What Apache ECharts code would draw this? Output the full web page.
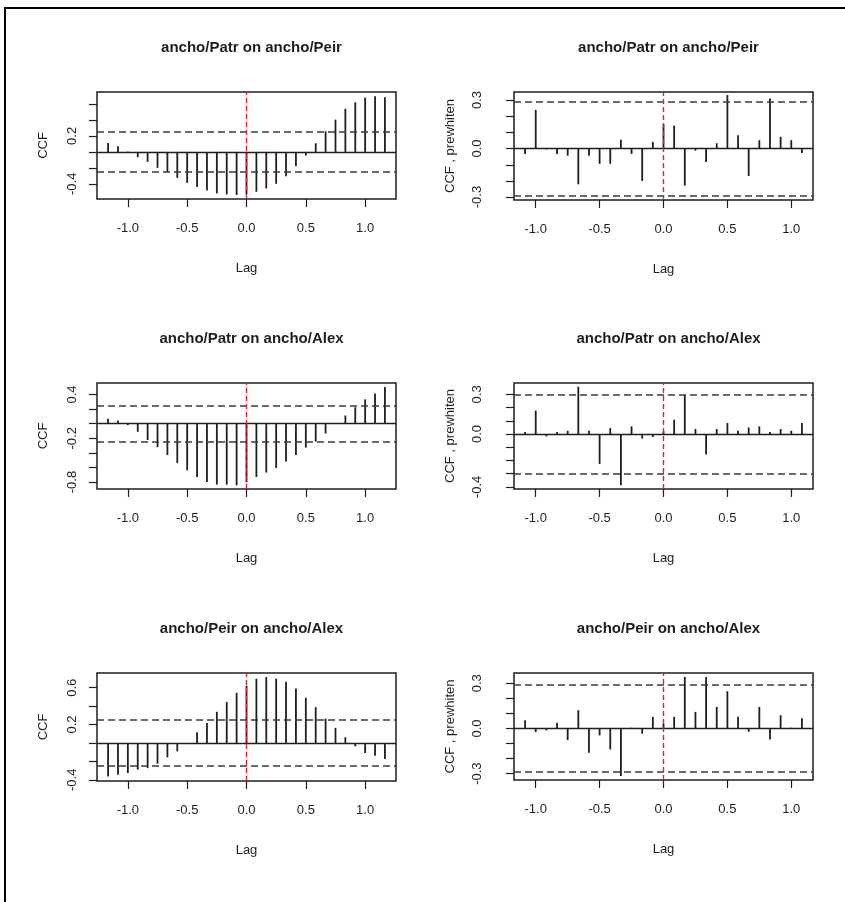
<!DOCTYPE html>
<html>
<head>
<meta charset="utf-8">
<script src="https://cdn.jsdelivr.net/npm/echarts@6/dist/echarts.min.js"></script>
<style>
  html, body { margin: 0; padding: 0; background: #fff; }
  #chart { width: 845px; height: 902px; }
</style>
</head>
<body>
<div id="chart"></div>
<script>
// lags in months (series frequency 12)
const lagsRaw = [-14, -13, -12, -11, -10, -9, -8, -7, -6, -5, -4, -3, -2, -1, 0, 1, 2, 3, 4, 5, 6, 7, 8, 9, 10, 11, 12, 13, 14]
const lagsPrew = [-13, -12, -11, -10, -9, -8, -7, -6, -5, -4, -3, -2, -1, 0, 1, 2, 3, 4, 5, 6, 7, 8, 9, 10, 11, 12, 13]

const ccfPatrPeir = [0.11, 0.07, 0.005, -0.067, -0.125, -0.2, -0.254, -0.325, -0.388, -0.44, -0.483, -0.52, -0.533, -0.54, -0.53, -0.5, -0.458, -0.4, -0.304, -0.18, -0.046, 0.108, 0.258, 0.404, 0.54, 0.62, 0.68, 0.696, 0.683]
const prewPatrPeir = [-0.033, 0.24, -0.005, -0.033, -0.044, -0.221, -0.044, -0.094, -0.094, 0.054, -0.033, -0.2, 0.042, 0.15, 0.142, -0.229, -0.0125, -0.083, 0.033, 0.331, 0.083, -0.169, 0.052, 0.31, 0.073, 0.052, -0.027]
const ccfPatrAlex = [0.067, 0.045, -0.02, -0.112, -0.225, -0.323, -0.43, -0.54, -0.64, -0.73, -0.8, -0.835, -0.835, -0.845, -0.8, -0.73, -0.67, -0.606, -0.517, -0.43, -0.328, -0.247, -0.135, -0.005, 0.112, 0.225, 0.333, 0.413, 0.503]
const prewPatrAlex = [0.015, 0.178, -0.018, 0.015, 0.025, 0.358, 0.025, -0.226, 0.045, -0.388, 0.058, -0.035, -0.023, 0.02, 0.108, 0.296, 0.038, -0.155, 0.038, 0.083, 0.025, 0.05, 0.058, 0.015, 0.038, 0.025, 0.083]
const ccfPeirAlex = [-0.364, -0.345, -0.327, -0.29, -0.273, -0.225, -0.156, -0.091, -0.005, 0.116, 0.218, 0.338, 0.444, 0.545, 0.62, 0.698, 0.716, 0.698, 0.665, 0.593, 0.491, 0.389, 0.265, 0.164, 0.062, -0.036, -0.109, -0.138, -0.175]
const prewPeirAlex = [0.055, -0.024, -0.013, 0.038, -0.077, 0.121, -0.161, -0.046, -0.139, -0.316, 0.005, -0.035, 0.077, 0.03, 0.077, 0.342, 0.11, 0.342, 0.143, 0.247, 0.077, -0.022, 0.143, -0.073, 0.088, 0.005, 0.068]

// confidence bounds (dashed lines)
const ciBounds = [0.25, 0.295, 0.25, 0.3, 0.25, 0.295]

const titles = ['ancho/Patr on ancho/Peir', 'ancho/Patr on ancho/Peir', 'ancho/Patr on ancho/Alex', 'ancho/Patr on ancho/Alex', 'ancho/Peir on ancho/Alex', 'ancho/Peir on ancho/Alex']
const yNames = ['CCF', 'CCF , prewhiten', 'CCF', 'CCF , prewhiten', 'CCF', 'CCF , prewhiten']

const xTicks = [-1.0, -0.5, 0.0, 0.5, 1.0]
const yTicks = [
  [-0.4, -0.2, 0.0, 0.2, 0.4, 0.6],
  [-0.3, -0.2, -0.1, 0.0, 0.1, 0.2, 0.3],
  [-0.8, -0.6, -0.4, -0.2, 0.0, 0.2, 0.4],
  [-0.4, -0.3, -0.2, -0.1, 0.0, 0.1, 0.2, 0.3],
  [-0.4, -0.2, 0.0, 0.2, 0.4, 0.6],
  [-0.3, -0.2, -0.1, 0.0, 0.1, 0.2, 0.3],
]
const yTickLabels = [
  [-0.4, 0.2],
  [-0.3, 0.0, 0.3],
  [-0.8, -0.2, 0.4],
  [-0.4, 0.0, 0.3],
  [-0.4, 0.2, 0.6],
  [-0.3, 0.0, 0.3],
]

const panels = [
  { lags: lagsRaw, values: ccfPatrPeir },
  { lags: lagsPrew, values: prewPatrPeir },
  { lags: lagsRaw, values: ccfPatrAlex },
  { lags: lagsPrew, values: prewPatrAlex },
  { lags: lagsRaw, values: ccfPeirAlex },
  { lags: lagsPrew, values: prewPeirAlex },
]

// plot boxes, pixels
const boxes = [
  { left: 97, top: 92, height: 107 },
  { left: 514, top: 92, height: 108 },
  { left: 97, top: 383, height: 106 },
  { left: 514, top: 383, height: 106 },
  { left: 97, top: 673, height: 108 },
  { left: 514, top: 673, height: 107 },
]
const boxWidth = 299
const yRanges = [[-0.59, 0.75], [-0.318, 0.35], [-0.895, 0.557], [-0.416, 0.386], [-0.413, 0.76], [-0.342, 0.368]]

const ink = '#1e1e1e'
const font = 'Liberation Sans'

const chart = echarts.init(document.getElementById('chart'), null, { renderer: 'canvas' })

const grid = boxes.map(b => ({
  left: b.left, top: b.top, width: boxWidth, height: b.height,
  show: true, borderColor: ink, borderWidth: 1.5, backgroundColor: 'transparent',
  containLabel: false,
}))

const title = boxes.map((b, i) => ({
  text: titles[i],
  left: b.left + boxWidth / 2,
  top: b.top - 57,
  textAlign: 'center',
  textStyle: { fontFamily: font, fontSize: 15, fontWeight: 'bold', color: ink },
}))

const xAxis = panels.map((p, i) => {
  const raw = i % 2 === 0
  return {
    type: 'value', gridIndex: i,
    min: raw ? -1.26 : -1.17, max: raw ? 1.26 : 1.17,
    name: 'Lag', nameLocation: 'middle', nameGap: 63,
    nameTextStyle: { fontFamily: font, fontSize: 13, color: ink },
    axisLine: { show: false, onZero: false },
    axisTick: { show: true, inside: false, length: 8, customValues: xTicks, lineStyle: { color: ink, width: 1.2 } },
    axisLabel: { customValues: xTicks, margin: 23, fontFamily: font, fontSize: 13, color: ink, formatter: v => v.toFixed(1) },
    splitLine: { show: false },
  }
})

const yAxis = panels.map((p, i) => {
  const raw = i % 2 === 0
  return {
    type: 'value', gridIndex: i,
    min: yRanges[i][0], max: yRanges[i][1],
    name: yNames[i], nameLocation: 'middle', nameRotate: 90,
    nameGap: raw ? 47 : 57,
    nameTextStyle: { fontFamily: font, fontSize: 13, color: ink },
    axisLine: { show: false, onZero: false },
    axisTick: { show: true, inside: false, length: 8, customValues: yTicks[i], lineStyle: { color: ink, width: 1.2 } },
    axisLabel: {
      customValues: yTickLabels[i], rotate: 90, margin: raw ? 18 : 30,
      fontFamily: font, fontSize: 13, color: ink, formatter: v => v.toFixed(1),
    },
    splitLine: { show: false },
  }
})

const series = panels.map((p, i) => ({
  type: 'bar', xAxisIndex: i, yAxisIndex: i,
  data: p.lags.map((k, j) => [k / 12, p.values[j]]),
  barWidth: 1.8,
  itemStyle: { color: ink },
  silent: true,
  markLine: {
    symbol: 'none', silent: true, label: { show: false },
    data: [
      { yAxis: 0, lineStyle: { type: 'solid', color: ink, width: 1.3 } },
      { yAxis: ciBounds[i], lineStyle: { type: [7, 4], color: '#3a3a48', width: 1.5 } },
      { yAxis: -ciBounds[i], lineStyle: { type: [7, 4], color: '#3a3a48', width: 1.5 } },
      { xAxis: 0, lineStyle: { type: [5, 3], color: '#cc2a3c', width: 1.4 } },
    ],
  },
}))

chart.setOption({
  animation: false,
  backgroundColor: '#fff',
  textStyle: { fontFamily: font },
  title,
  grid,
  xAxis,
  yAxis,
  series,
  graphic: [{
    type: 'polyline',
    shape: { points: [[5, 902], [5, 8], [845, 8]] },
    style: { stroke: '#000', lineWidth: 2, fill: null },
  }],
})
</script>
</body>
</html>
